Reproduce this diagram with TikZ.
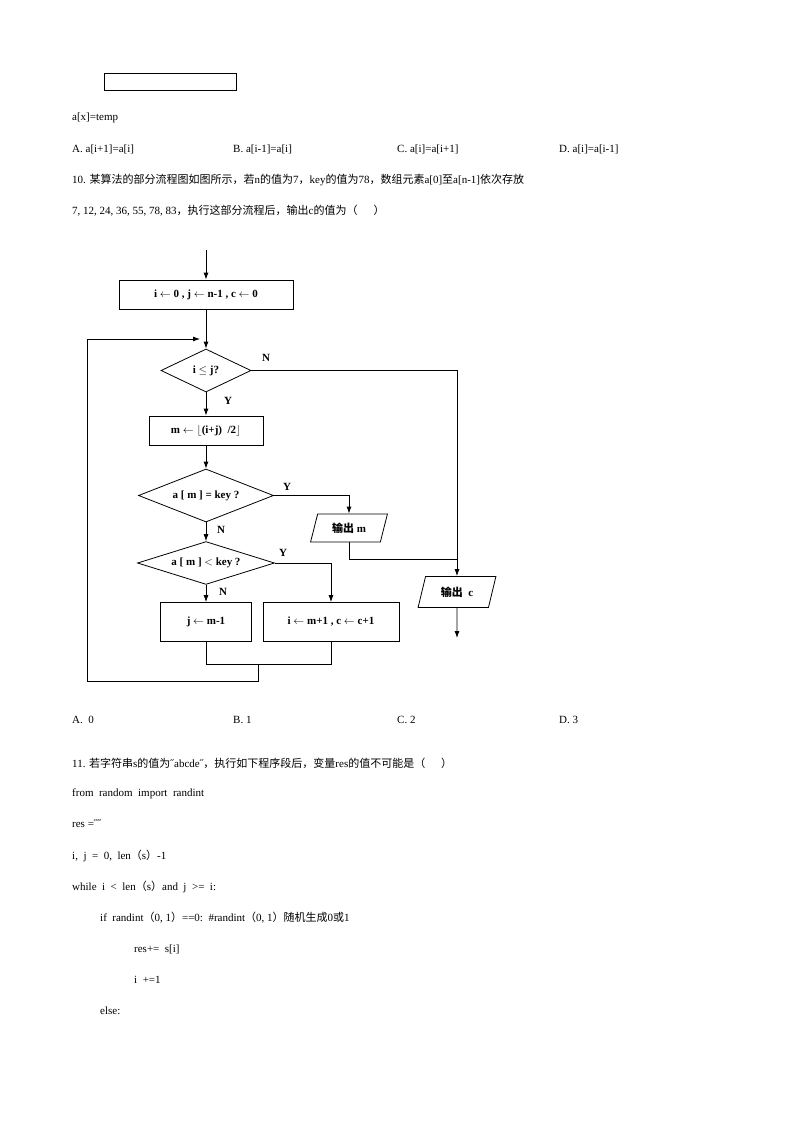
\documentclass[tikz,border=0pt]{standalone}
\usepackage{fontspec}
\setmainfont{Liberation Serif}
\newfontfamily\cjk{Noto Sans CJK SC}
\usetikzlibrary{shapes.geometric,arrows.meta}
\begin{document}
\begin{tikzpicture}[x=1pt,y=-1pt,
  txt/.style={anchor=west,inner sep=0pt,font=\fontsize{11}{13}\selectfont},
  box/.style={draw,line width=0.8pt,inner sep=0pt,font=\bfseries\fontsize{11}{13}\selectfont},
  dec/.style={draw,diamond,aspect=2.1,line width=0.8pt,inner sep=0pt,font=\bfseries\fontsize{11}{13}\selectfont},
  io/.style={draw,trapezium,trapezium left angle=70,trapezium right angle=110,trapezium stretches=true,line width=0.8pt,inner sep=0pt,font=\bfseries\fontsize{11}{13}\selectfont},
  lab/.style={font=\bfseries\fontsize{11}{13}\selectfont,inner sep=0pt},
  arr/.style={line width=0.8pt,-{Latex[length=7pt,width=5pt]}},
  ln/.style={line width=0.8pt}]
\useasboundingbox (0,0) rectangle (794,1123);
\node[draw,line width=0.9pt,minimum width=132pt,minimum height=17pt,inner sep=0pt,anchor=north west] (topbox) at (104,73) {};
\node[txt] (t1) at (72,118) {a[x]=temp};
\node[txt] (o1) at (72,149) {A. a[i+1]=a[i]};
\node[txt] (o2) at (233,149) {B. a[i-1]=a[i]};
\node[txt] (o3) at (397,149) {C. a[i]=a[i+1]};
\node[txt] (o4) at (559,149) {D. a[i]=a[i-1]};
\node[txt] (q10a) at (72,180) {10. {\cjk 某算法的部分流程图如图所示，若}n{\cjk 的值为}7{\cjk ，}key{\cjk 的值为}78{\cjk ，数组元素}a[0]{\cjk 至}a[n-1]{\cjk 依次存放}};
\node[txt] (q10b) at (72,211) {7, 12, 24, 36, 55, 78, 83{\cjk ，执行这部分流程后，输出}c{\cjk 的值为（\quad\ \ ）}};
% flowchart
\coordinate (start) at (206,250);
\node[box,minimum width=174pt,minimum height=29pt] (init) at (206,294.5) {i $\leftarrow$ 0 , j $\leftarrow$ n-1 , c $\leftarrow$ 0};
\node[dec,minimum width=90pt,minimum height=43pt] (d1) at (206,370.5) {i $\leq$ j?};
\node[box,minimum width=114pt,minimum height=29pt] (mbox) at (206,430.5) {m $\leftarrow\lfloor$(i+j)\ \ /2$\rfloor$};
\node[dec,minimum width=135pt,minimum height=53pt] (d2) at (206,495.5) {a [ m ] = key ?};
\node[dec,minimum width=137pt,minimum height=42pt] (d3) at (206,563) {a [ m ] $<$ key ?};
\node[box,minimum width=91pt,minimum height=39pt] (b3) at (206,622) {j $\leftarrow$ m-1};
\node[box,minimum width=136pt,minimum height=39pt] (b4) at (331,622) {i $\leftarrow$ m+1 , c $\leftarrow$ c+1};
\node[io,minimum width=77pt,minimum height=28pt] (om) at (349,528) {{\cjk 输出} m};
\node[io,minimum width=78pt,minimum height=31pt] (oc) at (457,592) {{\cjk 输出}\ \ c};
\coordinate (end) at (457,638);
\coordinate (mergeB) at (331,664);
\draw[arr] (start) -- (init);
\draw[arr] (init) -- (d1);
\draw[arr] (d1) -- (mbox);
\draw[arr] (mbox) -- (d2);
\draw[arr] (d2) -- (d3);
\draw[arr] (d3) -- (b3);
\draw[arr] (d1.east) -| (oc.north);
\draw[arr] (d2.east) -| (om.north);
\draw[ln] (om.south) |- (457,559);
\draw[arr] (d3.east) -| (b4.north);
\draw[arr] (oc.south) -- (end);
\draw[ln] (b3.south) |- (mergeB) -- (b4.south);
\draw[arr] (258,664) -- (258,681) -- (87,681) -- (87,339) -- (200,339);
\node[lab] (lN1) at (266,358) {N};
\node[lab] (lY1) at (228,401) {Y};
\node[lab] (lY2) at (287,487) {Y};
\node[lab] (lN2) at (221,530) {N};
\node[lab] (lY3) at (283,553) {Y};
\node[lab] (lN3) at (223,592) {N};
% answers
\node[txt] (a1) at (72,720) {A.\ \ 0};
\node[txt] (a2) at (233,720) {B. 1};
\node[txt] (a3) at (397,720) {C. 2};
\node[txt] (a4) at (559,720) {D. 3};
\node[txt] (q11) at (72,763) {11. {\cjk 若字符串}s{\cjk 的值为}˝abcde˝{\cjk ，执行如下程序段后，变量}res{\cjk 的值不可能是（\quad\ \ ）}};
\node[txt] (c1) at (72,794) {from\ \ random\ \ import\ \ randint};
\node[txt] (c2) at (72,824) {res =˝˝};
\node[txt] (c3) at (72,856) {i,\ \ j\ \ =\ \ 0,\ \ len{\cjk （}s{\cjk ）}-1};
\node[txt] (c4) at (72,887) {while\ \ i\ \ <\ \ len{\cjk （}s{\cjk ）}and\ \ j\ \ >=\ \ i:};
\node[txt] (c5) at (100,918) {if\ \ randint{\cjk （}0, 1{\cjk ）}==0:\ \ \#randint{\cjk （}0, 1{\cjk ）随机生成}0{\cjk 或}1};
\node[txt] (c6) at (134,949) {res+=\ \ s[i]};
\node[txt] (c7) at (134,980) {i\ \ +=1};
\node[txt] (c8) at (100,1011) {else:};
\end{tikzpicture}
\end{document}
